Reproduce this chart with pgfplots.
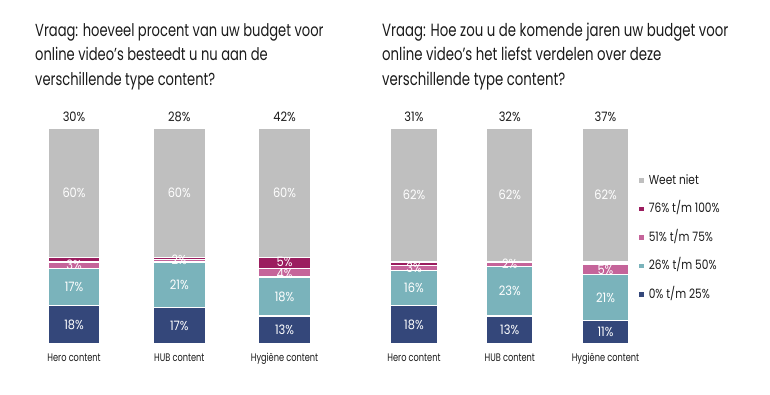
\documentclass[border=0pt]{standalone}
\usepackage{pgfplots}
\pgfplotsset{compat=1.18}
\usepackage{fontspec}
\setmainfont{Poppins}[FakeStretch=0.75]
\newfontfamily\numfont{Poppins}[FakeStretch=0.88]
\newfontfamily\legfont{Poppins}[FakeStretch=0.82]
\definecolor{cNavy}{HTML}{34477A}
\definecolor{cTeal}{HTML}{7AB3BB}
\definecolor{cPink}{HTML}{C5649A}
\definecolor{cMag}{HTML}{9B1D5F}
\definecolor{cGray}{HTML}{BFBFBF}
\definecolor{cText}{HTML}{1A1A1A}
\tikzset{
  barlab/.style={text=white, font=\numfont\fontsize{13}{15}\selectfont, inner sep=0pt, anchor=center},
  toplab/.style={text=cText, font=\numfont\fontsize{13}{15}\selectfont, inner sep=0pt, anchor=center},
}
\pgfplotsset{
  geom/.style={scale only axis, height=216bp,
    ymin=0, ymax=100, xmin=-0.5, xmax=2.5, enlargelimits=false, clip=false},
  stackbar/.style={geom,
    ybar stacked,
    axis line style={draw=none}, tick style={draw=none},
    ytick=\empty, xtick={0,1,2},
    xticklabel style={font=\fontsize{11}{13}\selectfont, text=cText, yshift=-6bp},
    every axis plot/.append style={draw=white, line width=1.2bp},
  },
  labaxis/.style={geom, hide axis},
  labplot/.style={draw=none, mark=none, nodes near coords, point meta=explicit symbolic,
    every node near coord/.style={#1}},
}
\begin{document}
\begin{tikzpicture}[x=1bp,y=1bp]
\useasboundingbox (0,0) rectangle (770,394);
% titles
\begin{scope}[every node/.style={anchor=base west, inner sep=0pt, text=cText, font=\fontsize{17.5}{20}\selectfont}]
\node at (35,358) {Vraag: hoeveel procent van uw budget voor};
\node at (35,333.5) {online video’s besteedt u nu aan de};
\node at (35,309) {verschillende type content?};
\end{scope}
\begin{scope}[every node/.style={anchor=base west, inner sep=0pt, text=cText, font=\fontsize{17.8}{20}\selectfont}]
\node at (382,358) {Vraag: Hoe zou u de komende jaren uw budget voor};
\node at (382,333.5) {online video’s het liefst verdelen over deze};
\node at (382,309) {verschillende type content?};
\end{scope}
% left chart
\begin{axis}[stackbar, width=315.75bp, bar width=52bp, at={(21.4bp,50bp)}, anchor=south west,
  xticklabels={Hero content, HUB content, Hygiëne content}]
\addplot[fill=cNavy] coordinates {(0,18) (1,17) (2,13)};
\addplot[fill=cTeal] coordinates {(0,17) (1,21) (2,18)};
\addplot[fill=cPink] coordinates {(0,3) (1,1.3) (2,4)};
\addplot[fill=cMag] coordinates {(0,2) (1,0.7) (2,5)};
\addplot[fill=cGray] coordinates {(0,60) (1,60) (2,60)};
\end{axis}
\begin{axis}[labaxis, width=315.75bp, at={(21.4bp,50bp)}, anchor=south west]
\addplot[labplot=barlab] coordinates {
 (0,9)[18\%] (0,26.5)[17\%] (0,36.5)[3\%] (0,70)[60\%]
 (1,8.5)[17\%] (1,27.5)[21\%] (1,39)[2\%] (1,70)[60\%]
 (2,6.5)[13\%] (2,22)[18\%] (2,32.6)[4\%] (2,38)[5\%] (2,70)[60\%]};
\addplot[labplot=toplab] coordinates {(0,105)[30\%] (1,105)[28\%] (2,105)[42\%]};
\end{axis}
% right chart
\begin{axis}[stackbar, width=287.25bp, bar width=46.5bp, at={(366.1bp,50bp)}, anchor=south west,
  xticklabels={Hero content, HUB content, Hygiëne content},
  reverse legend,
  legend style={at={(0.95,0.78)}, anchor=north west, draw=none, fill=none, inner sep=0pt,
    font=\legfont\fontsize{13}{15}\selectfont, text=cText, row sep=17.5bp,
    nodes={inner sep=0pt, text height=8.5bp, text depth=2.5bp},
    /tikz/every even column/.append style={column sep=0bp}},
  legend cell align=left,
  legend image code/.code={\fill[#1, draw=none] (0bp,-1.5bp) rectangle (4.5bp,3bp); \path (9bp,0);}]
\addplot[fill=cNavy] coordinates {(0,18) (1,13) (2,11)};
\addlegendentry{0\% t/m 25\%}
\addplot[fill=cTeal] coordinates {(0,16) (1,23) (2,21)};
\addlegendentry{26\% t/m 50\%}
\addplot[fill=cPink] coordinates {(0,2.5) (1,2) (2,5)};
\addlegendentry{51\% t/m 75\%}
\addplot[fill=cMag] coordinates {(0,1.5) (1,0) (2,1)};
\addlegendentry{76\% t/m 100\%}
\addplot[fill=cGray] coordinates {(0,62) (1,62) (2,62)};
\addlegendentry{Weet niet}
\end{axis}
\begin{axis}[labaxis, width=287.25bp, at={(366.1bp,50bp)}, anchor=south west]
\addplot[labplot=barlab] coordinates {
 (0,9)[18\%] (0,26)[16\%] (0,35.25)[3\%] (0,69)[62\%]
 (1,6.5)[13\%] (1,24.5)[23\%] (1,37)[2\%] (1,69)[62\%]
 (2,5.5)[11\%] (2,21.5)[21\%] (2,34.5)[5\%] (2,69)[62\%]};
\addplot[labplot=toplab] coordinates {(0,105)[31\%] (1,105)[32\%] (2,105)[37\%]};
\end{axis}
\end{tikzpicture}
\end{document}
